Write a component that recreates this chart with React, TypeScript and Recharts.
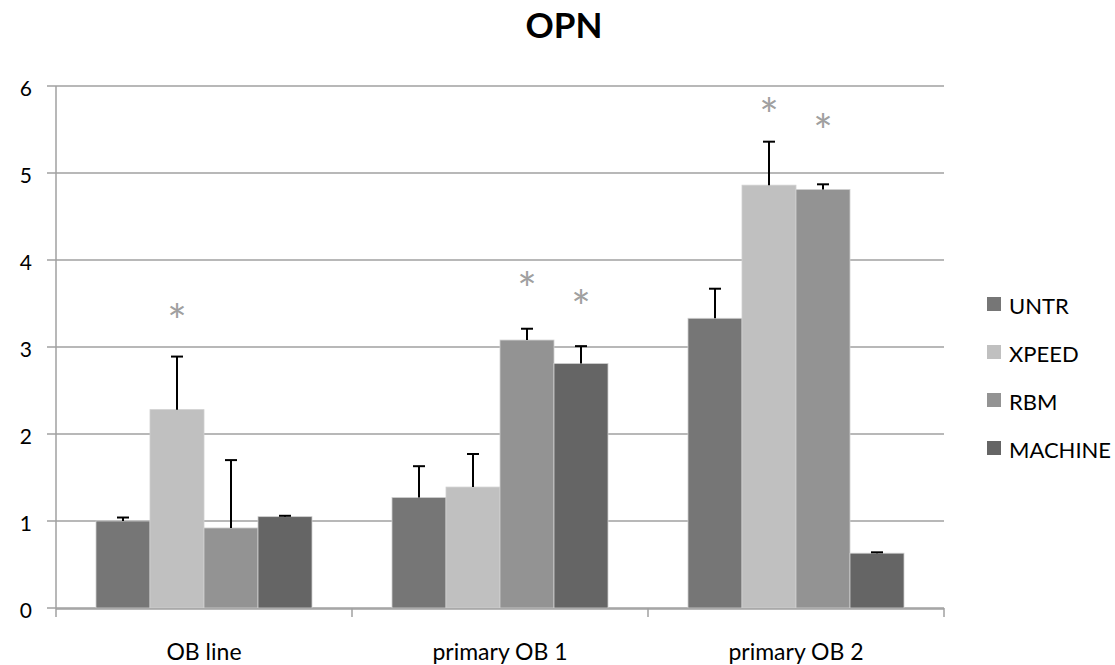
import React from 'react';
import { ComposedChart, Bar, XAxis, YAxis, CartesianGrid } from 'recharts';

const categories = ['OB line', 'primary OB 1', 'primary OB 2'];
const seriesNames = ['UNTR', 'XPEED', 'RBM', 'MACHINE'];
const untr = [1.0, 1.27, 3.33];
const xpeed = [2.28, 1.39, 4.86];
const rbm = [0.92, 3.08, 4.81];
const machine = [1.05, 2.81, 0.63];
// upper error (amount above the bar)
const untrErr = [0.04, 0.36, 0.34];
const xpeedErr = [0.61, 0.38, 0.5];
const rbmErr = [0.78, 0.13, 0.06];
const machineErr = [0.01, 0.2, 0.01];
// asterisk heights (null = none)
const untrStar = [null, null, null];
const xpeedStar = [3.42, null, 5.79];
const rbmStar = [null, 3.79, 5.61];
const machineStar = [null, 3.59, null];
const yTicks = [0, 1, 2, 3, 4, 5, 6];

const COLORS = ['#767676', '#c0c0c0', '#939393', '#656565'];
const FONT = 'Lato, "Open Sans", sans-serif';
const GRID = '#a0a0a0';

const values = [untr, xpeed, rbm, machine];
const errs = [untrErr, xpeedErr, rbmErr, machineErr];
const stars = [untrStar, xpeedStar, rbmStar, machineStar];

const data = categories.map((name, i) => {
  const row: any = { name, pos: i };
  seriesNames.forEach((s, k) => {
    row[s] = values[k][i];
    row[s + '_err'] = errs[k][i];
    row[s + '_star'] = stars[k][i];
  });
  return row;
});

const makeShape = (key: string, color: string) => (props: any) => {
  const { x, y, width, height, payload } = props;
  const v = payload[key];
  const pxPerUnit = v ? height / v : 0;
  const base = y + height;
  const cx = x + width / 2;
  const err = payload[key + '_err'];
  const star = payload[key + '_star'];
  const errTop = y - err * pxPerUnit;
  return (
    <g>
      <rect x={x} y={y} width={width} height={height} fill={color} stroke="#cfcfcf" strokeWidth={0.8} />
      {err > 0 && (
        <g stroke="#000" strokeWidth={2}>
          <line x1={cx} y1={y} x2={cx} y2={errTop} />
          <line x1={cx - 6} y1={errTop} x2={cx + 6} y2={errTop} />
        </g>
      )}
      {star != null && (
        <text x={cx} y={base - star * pxPerUnit + 28} textAnchor="middle" fontSize={46} fill="#a0a0a0" fontFamily={FONT}>
          *
        </text>
      )}
    </g>
  );
};

export default function App() {
  return (
    <div style={{ position: 'absolute', left: 0, top: 0, width: 1115, height: 665, background: '#fff', overflow: 'hidden' }}>
      <div
        style={{
          position: 'absolute',
          left: 464,
          width: 200,
          top: 6,
          height: 36,
          lineHeight: '36px',
          textAlign: 'center',
          fontFamily: FONT,
          fontWeight: 'bold',
          fontSize: 35,
        }}
      >
        OPN
      </div>
      <div style={{ position: 'absolute', left: 987, top: 281, fontFamily: FONT, fontSize: 22, color: '#000' }}>
        {seriesNames.map((s, i) => (
          <div key={s} style={{ display: 'flex', alignItems: 'center', height: 48 }}>
            <span style={{ display: 'inline-block', width: 14, height: 14, background: COLORS[i], marginRight: 8, marginTop: -3 }} />
            <span>{s}</span>
          </div>
        ))}
      </div>
      <ComposedChart
        width={1115}
        height={665}
        data={data}
        margin={{ top: 86, right: 171, bottom: 16, left: 16 }}
        barCategoryGap={40}
        barGap={0}
        style={{ position: 'absolute', left: 0, top: 0 }}
      >
        <CartesianGrid vertical={false} stroke={GRID} strokeWidth={1.5} xAxisId="z" />
        {/* boundary ticks between categories */}
        <XAxis
          xAxisId="a"
          type="number"
          dataKey="pos"
          domain={[0, 3]}
          ticks={[0, 1, 2, 3]}
          tickFormatter={() => ''}
          axisLine={false}
          tickLine={{ stroke: GRID, strokeWidth: 1.5 }}
          tickSize={9}
          height={1}
        />
        <XAxis
          xAxisId="z"
          dataKey="name"
          height={40}
          tickLine={false}
          axisLine={{ stroke: GRID, strokeWidth: 1.5 }}
          tick={{ fill: '#000', fontSize: 23, fontFamily: FONT }}
          tickMargin={29}
        />
        <YAxis
          width={40}
          domain={[0, 6]}
          ticks={yTicks}
          interval={0}
          axisLine={{ stroke: GRID, strokeWidth: 1.5 }}
          tickLine={{ stroke: GRID, strokeWidth: 1.5 }}
          tickSize={9}
          tickMargin={15}
          tick={{ fill: '#000', fontSize: 21, fontFamily: FONT, dy: 3 }}
        />
        {seriesNames.map((s, i) => (
          <Bar
            key={s}
            xAxisId="z"
            dataKey={s}
            fill={COLORS[i]}
            isAnimationActive={false}
            shape={makeShape(s, COLORS[i])}
          />
        ))}
      </ComposedChart>
    </div>
  );
}
